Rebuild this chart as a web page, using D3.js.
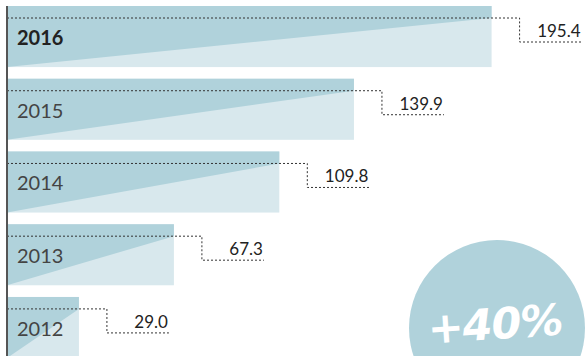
<!DOCTYPE html>
<html>
<head>
<meta charset="utf-8">
<script src="https://cdn.jsdelivr.net/npm/d3@7"></script>
<style>
  body { margin: 0; background: #fff; }
  svg { display: block; }
</style>
</head>
<body>
<div id="chart"></div>
<script>
// data, top bar first
const years = ["2016", "2015", "2014", "2013", "2012"];
const values = [195.4, 139.9, 109.8, 67.3, 29.0];
const highlightYear = "2016";
const growthLabel = "+40%";

const svgWidth = 585;
const svgHeight = 356;
const axisX = 7;

const svg = d3.select("#chart")
    .append("svg")
    .attr("width", svgWidth)
    .attr("height", svgHeight);

const xScale = d3.scaleLinear()
    .domain([0, 200])
    .range([axisX, axisX + 496]);

const yScale = d3.scaleBand()
    .domain(years)
    .range([6, 358])
    .paddingInner(0.16)
    .paddingOuter(0);

const bw = yScale.bandwidth();
const rows = years.map((y, i) => ({ year: y, value: values[i] }));

// growth badge, drawn first
svg.append("circle")
    .attr("cx", 497)
    .attr("cy", 328)
    .attr("r", 88)
    .attr("fill", "#b0d2db");

svg.append("text")
    .attr("x", 495)
    .attr("y", 339)
    .attr("transform", "rotate(-4,495,325)")
    .attr("text-anchor", "middle")
    .style("font-family", "'DejaVu Sans', sans-serif")
    .style("font-style", "italic")
    .style("font-weight", "bold")
    .style("font-size", "43px")
    .style("letter-spacing", "-1px")
    .style("fill", "#fff")
    .text(growthLabel);

const bar = svg.selectAll(".bar")
    .data(rows)
    .enter()
    .append("g")
    .attr("class", "bar");

// light base
bar.append("rect")
    .attr("x", axisX)
    .attr("y", d => yScale(d.year))
    .attr("width", d => xScale(d.value) - axisX)
    .attr("height", bw)
    .attr("fill", "#d8e8ed");

// darker wedge from bottom-left up to the connector line
bar.append("path")
    .attr("fill", "#b0d2db")
    .attr("d", d => {
        const t = yScale(d.year), r = xScale(d.value);
        return `M${axisX},${t}H${r}V${t + 12}L${axisX},${t + bw}Z`;
    });

// dotted connector to value
bar.append("path")
    .attr("fill", "none")
    .attr("stroke", "#333")
    .attr("stroke-width", 1)
    .attr("stroke-dasharray", "2,2")
    .attr("d", d => {
        const t = yScale(d.year), r = xScale(d.value);
        return `M${axisX},${t + 12}H${r + 28}V${t + 36}H${r + 90}`;
    });

bar.append("text")
    .attr("x", d => xScale(d.value) + 89)
    .attr("y", d => yScale(d.year) + 31)
    .attr("text-anchor", "end")
    .style("font-family", "Lato, sans-serif")
    .style("font-size", "17px")
    .style("fill", "#222")
    .text(d => d.value.toFixed(1));

bar.append("text")
    .attr("x", 17)
    .attr("y", d => yScale(d.year) + 39)
    .style("font-family", "Lato, sans-serif")
    .style("font-size", "20px")
    .style("font-weight", d => d.year === highlightYear ? "bold" : "normal")
    .style("fill", d => d.year === highlightYear ? "#222" : "#444")
    .text(d => d.year);

// left axis line
svg.append("line")
    .attr("x1", axisX)
    .attr("x2", axisX)
    .attr("y1", yScale(years[0]))
    .attr("y2", svgHeight)
    .attr("stroke", "#555")
    .attr("stroke-width", 2);
</script>
</body>
</html>
